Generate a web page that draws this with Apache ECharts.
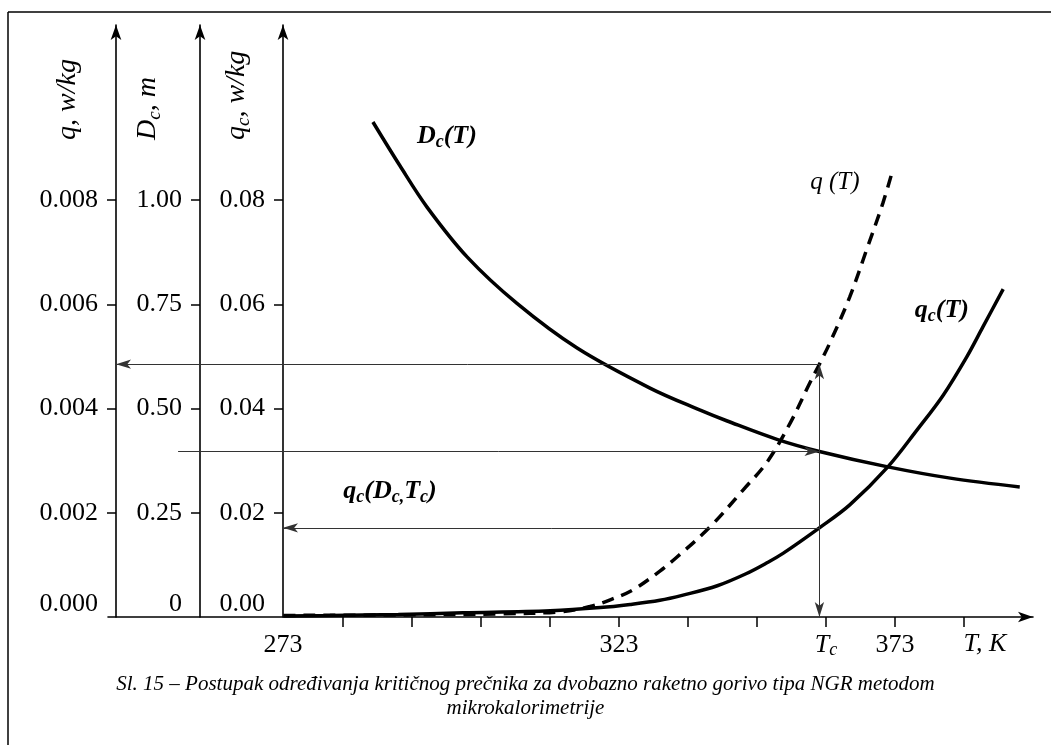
<!DOCTYPE html>
<html><head><meta charset="utf-8">
<script src="https://cdn.jsdelivr.net/npm/echarts@6/dist/echarts.min.js"></script>
<style>html,body{margin:0;padding:0;background:#fff}#c{width:1051px;height:745px}</style>
</head><body><div id="c"></div>
<script>
// ---------------- DATA ----------------
// q(T): heat generation, w/kg  [T (K), q]
const qData = [[262.2,0.00003],[283.3,0.00004],[301.4,0.00006],[312.3,0.0001],[317.7,0.0002],[321.4,0.00033],[325.5,0.00052],[330.4,0.00088],[333.5,0.00115],[339.5,0.00173],[345.5,0.00244],[349.8,0.00297],[354.0,0.00372],[357.6,0.0045],[359.3,0.00485],[361.2,0.00526],[364.8,0.00614],[367.9,0.00706],[370.8,0.00794],[372.6,0.00858]];
// qc(T): critical heat, w/kg
const qcData = [[262.2,0.0002],[270.6,0.0003],[283.0,0.0005],[294.7,0.0008],[310.5,0.0012],[319.6,0.0018],[325.0,0.0024],[330.4,0.0032],[334.6,0.0042],[340.8,0.0060],[346.0,0.0083],[349.8,0.0104],[352.7,0.0122],[359.3,0.0171],[364.8,0.0215],[371.7,0.0288],[377.0,0.0359],[381.7,0.0425],[386.0,0.0499],[388.9,0.0556],[392.6,0.0629]];
// Dc(T): critical diameter, m
const DcData = [[278.4,1.187],[283.3,1.082],[288.2,0.983],[295.5,0.863],[304.5,0.752],[315.4,0.645],[328.6,0.549],[337.7,0.496],[342.6,0.470],[351.6,0.426],[359.3,0.397],[371.7,0.360],[383.0,0.333],[395.6,0.312]];
// construction values
const Tc = 359.3;
const qAtTc = 0.00485;
const DcAtTc = 0.397;
const qcAtTc = 0.0171;
const DcArrowStartT = 243.1;
// tick positions / labels
const xTickValues = [273, 285.5, 298, 310.5, 323, 335.5, 348, 360.5, 373, 385.5];
const xLabelTexts = ['273', '323', '{i|T}{s|c}', '373'];
const qTicks = [0.002, 0.004, 0.006, 0.008];
const qLabels = [0, 0.002, 0.004, 0.006, 0.008];
const DcTicks = [0.25, 0.5, 0.75, 1.0];
const DcLabels = [0, 0.25, 0.5, 0.75, 1.0];
const qcTicks = [0.02, 0.04, 0.06, 0.08];
const qcLabels = [0, 0.02, 0.04, 0.06, 0.08];
// curve annotations [T, value]
const labelDc = {pos: [291.8, 1.153], text: '{b|D}{bs|c}{b|(T)}'};
const labelQ = {pos: [362.1, 0.00833], text: '{n|q (T)}'};
const labelQc = {pos: [381.5, 0.0589], text: '{b|q}{bs|c}{b|(T)}'};
const labelQcTc = {pos: [281.5, 0.0242], text: '{b|q}{bs|c}{b|(D}{bs|c,}{b|T}{bs|c}{b|)}'};
const caption = 'Sl. 15 – Postupak određivanja kritičnog prečnika za dvobazno raketno gorivo tipa NGR metodom\nmikrokalorimetrije';

// ---------------- LAYOUT ----------------
const SERIF = "'Liberation Serif','DejaVu Serif','Times New Roman',serif";
const GRID = {left: 108, right: 18, top: 25, bottom: 128};
const CW = 1051, CH = 745;
const X_MIN = 230.4, X_MAX = 398.0;
const pxPerK = (CW - GRID.left - GRID.right) / (X_MAX - X_MIN);
const tAt = px => X_MIN + (px - GRID.left) / pxPerK;
const AX_PX = {q: 116, Dc: 200, qc: 283};
const yScale = (CH - GRID.bottom - GRID.top) / 417; // axis length relative to 0.008 span
const xLabelValues = [tAt(AX_PX.qc), 323, 360.5, 373];

const black = '#000';
const richSub = {
  i: {fontFamily: SERIF, fontStyle: 'italic', fontSize: 28, color: black, lineHeight: 32},
  s: {fontFamily: SERIF, fontStyle: 'italic', fontSize: 19, color: black, lineHeight: 15, verticalAlign: 'bottom'}
};
const xRich = {
  i: {fontFamily: SERIF, fontStyle: 'italic', fontSize: 26, color: black, lineHeight: 28},
  s: {fontFamily: SERIF, fontStyle: 'italic', fontSize: 18, color: black, lineHeight: 14, verticalAlign: 'bottom'}
};
const labelRich = {
  b: {fontFamily: SERIF, fontStyle: 'italic', fontWeight: 'bold', fontSize: 26, color: black, lineHeight: 30},
  bs: {fontFamily: SERIF, fontStyle: 'italic', fontWeight: 'bold', fontSize: 18, color: black, lineHeight: 14, verticalAlign: 'bottom'},
  n: {fontFamily: SERIF, fontStyle: 'italic', fontSize: 25, color: black, lineHeight: 30}
};

function yAxisDef(key, max, ticks, labels, fmt, nameText, padBottom) {
  return {
    type: 'value', position: 'left', offset: GRID.left - AX_PX[key],
    min: 0, max: max,
    name: nameText, nameLocation: 'end', nameGap: -(140 - GRID.top), nameRotate: 90,
    nameMoveOverlap: false,
    nameTextStyle: {align: 'left', verticalAlign: 'bottom', padding: [0, 0, padBottom, 0],
      fontFamily: SERIF, fontStyle: 'italic', fontSize: 28, color: black, rich: richSub},
    axisLine: {show: true, onZero: false, symbol: ['none', 'arrow'], symbolSize: [8, 15],
      lineStyle: {color: black, width: 1.6}},
    axisTick: {show: true, length: 9, customValues: ticks, lineStyle: {color: black, width: 1.5}},
    axisLabel: {show: true, customValues: labels, margin: 18, formatter: fmt,
      verticalAlignMinLabel: 'bottom',
      fontFamily: SERIF, fontSize: 26, color: black},
    splitLine: {show: false}
  };
}

const arrowLine = {color: '#333', width: 1, type: 'solid'};
function markLines(lines) {
  return {
    silent: true, animation: false, symbol: ['none', 'arrow'], symbolSize: [7, 15],
    label: {show: false}, emphasis: {disabled: true},
    lineStyle: arrowLine, data: lines
  };
}
function labelItem(l) {
  return {coord: l.pos, symbol: 'circle', symbolSize: 1, itemStyle: {color: 'rgba(0,0,0,0)'},
    label: {show: true, position: 'inside', formatter: l.text, rich: labelRich}};
}

const chart = echarts.init(document.getElementById('c'), null, {renderer: 'canvas'});
chart.setOption({
  animation: false,
  backgroundColor: '#fff',
  title: {text: caption, left: 'center', top: 667,
    textStyle: {fontFamily: SERIF, fontStyle: 'italic', fontWeight: 'normal', fontSize: 21, lineHeight: 24, color: black}},
  graphic: [
    {type: 'line', shape: {x1: 8, y1: 12, x2: CW, y2: 12}, style: {stroke: black, lineWidth: 1.5}},
    {type: 'line', shape: {x1: 8, y1: 12, x2: 8, y2: CH}, style: {stroke: black, lineWidth: 1.5}}
  ],
  grid: {left: GRID.left, right: GRID.right, top: GRID.top, bottom: GRID.bottom, containLabel: false, outerBoundsMode: 'none'},
  xAxis: {
    type: 'value', min: X_MIN, max: X_MAX,
    name: 'T, K', nameLocation: 'end', nameGap: -48, nameMoveOverlap: false,
    nameTextStyle: {align: 'center', verticalAlign: 'top', padding: [14, 0, 0, 0],
      fontFamily: SERIF, fontStyle: 'italic', fontSize: 26, color: black},
    axisLine: {show: true, onZero: false, symbol: ['none', 'arrow'], symbolSize: [8, 15],
      lineStyle: {color: black, width: 1.6}},
    axisTick: {show: true, length: 10, customValues: xTickValues, lineStyle: {color: black, width: 1.5}},
    axisLabel: {show: true, customValues: xLabelValues, margin: 14,
      formatter: v => {
        let best = 0;
        xLabelValues.forEach((x, i) => { if (Math.abs(x - v) < Math.abs(xLabelValues[best] - v)) best = i; });
        return xLabelTexts[best];
      },
      fontFamily: SERIF, fontSize: 26, color: black, lineHeight: 28, rich: xRich},
    splitLine: {show: false}
  },
  yAxis: [
    yAxisDef('q', 0.008 * yScale, qTicks, qLabels, v => v.toFixed(3), '{i|q, w/kg}', 32),
    yAxisDef('Dc', 1.0 * yScale, DcTicks, DcLabels, v => (v === 0 ? '0' : v.toFixed(2)), '{i|D}{s|c}{i|, m}', 36),
    yAxisDef('qc', 0.08 * yScale, qcTicks, qcLabels, v => v.toFixed(2), '{i|q}{s|c}{i|, w/kg}', 30)
  ],
  series: [
    {
      name: 'q(T)', type: 'line', xAxisIndex: 0, yAxisIndex: 0, data: qData, smooth: 0.35,
      showSymbol: false, symbol: 'none', silent: true,
      lineStyle: {color: black, width: 3.5, type: [12, 8]},
      markLine: markLines([
        [{coord: [Tc, qAtTc]}, {coord: [tAt(AX_PX.q), qAtTc]}],
        [{coord: [Tc, 0], symbol: 'arrow'}, {coord: [Tc, qAtTc]}]
      ]),
      markPoint: {silent: true, animation: false, data: [labelItem(labelQ)]}
    },
    {
      name: 'Dc(T)', type: 'line', xAxisIndex: 0, yAxisIndex: 1, data: DcData, smooth: 0.35,
      showSymbol: false, symbol: 'none', silent: true,
      lineStyle: {color: black, width: 3.5},
      markLine: markLines([
        [{coord: [DcArrowStartT, DcAtTc]}, {coord: [Tc, DcAtTc]}]
      ]),
      markPoint: {silent: true, animation: false, data: [labelItem(labelDc)]}
    },
    {
      name: 'qc(T)', type: 'line', xAxisIndex: 0, yAxisIndex: 2, data: qcData, smooth: 0.35,
      showSymbol: false, symbol: 'none', silent: true,
      lineStyle: {color: black, width: 3.5},
      markLine: markLines([
        [{coord: [Tc, qcAtTc]}, {coord: [tAt(AX_PX.qc), qcAtTc]}]
      ]),
      markPoint: {silent: true, animation: false, data: [labelItem(labelQc), labelItem(labelQcTc)]}
    }
  ]
});
</script></body></html>
